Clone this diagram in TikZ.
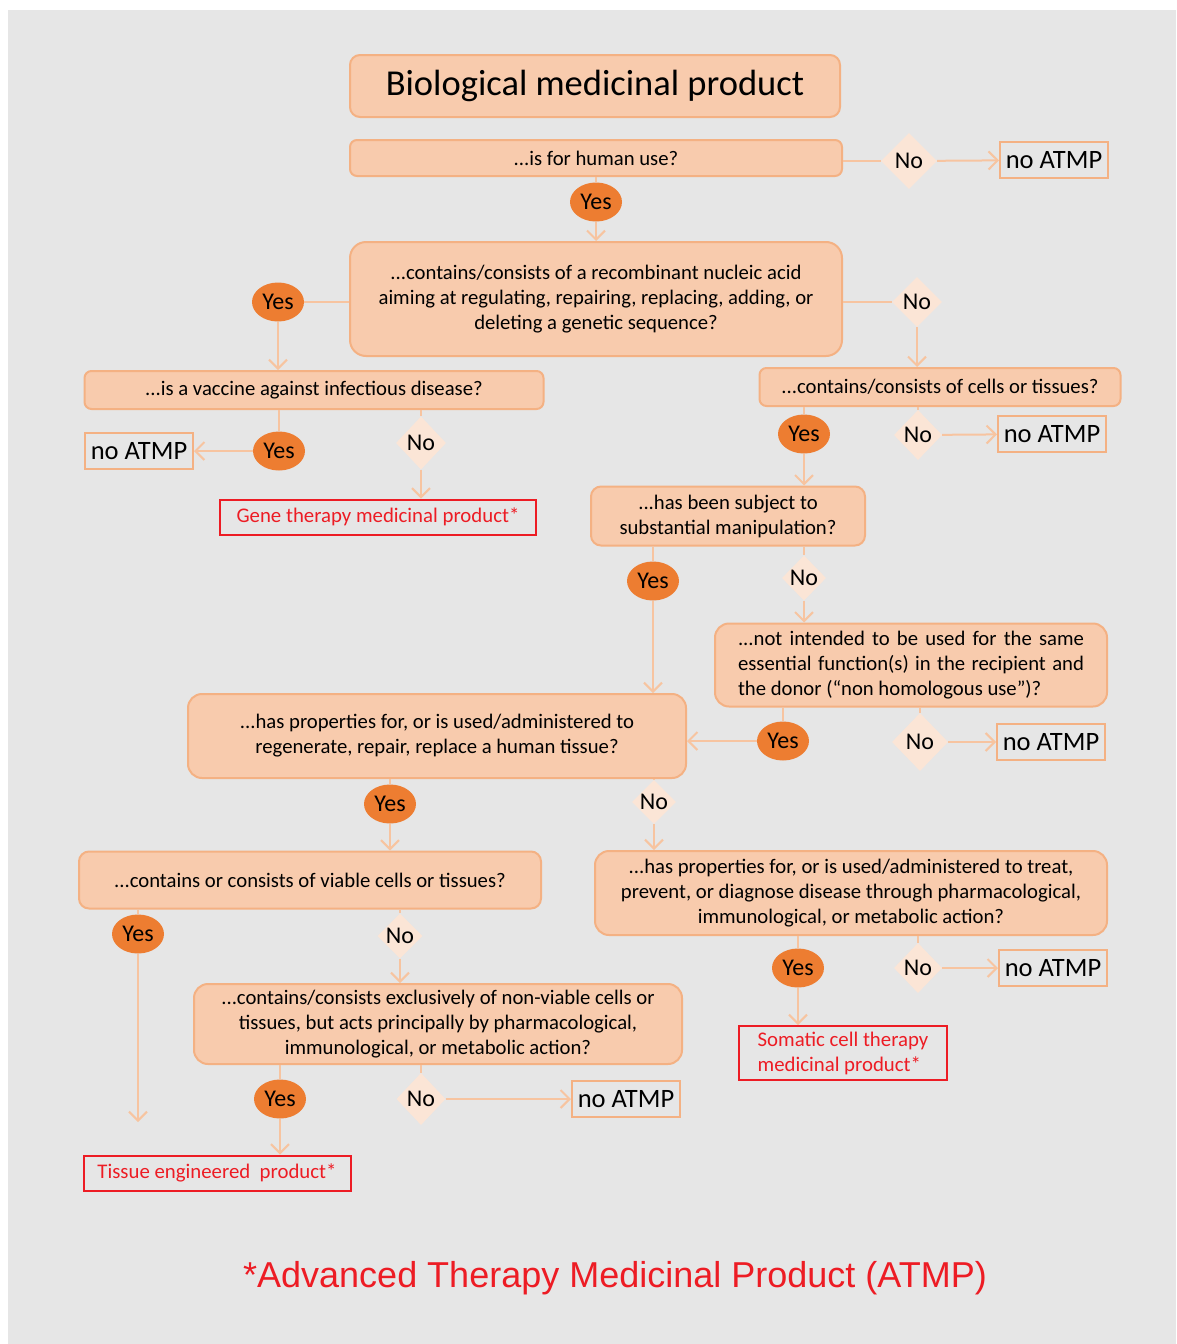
\documentclass[tikz,border=0pt]{standalone}
\usepackage{fontspec}
\setmainfont{Carlito}
\newfontfamily\footfont{Liberation Sans}
\usetikzlibrary{shapes.geometric,arrows.meta}
\definecolor{bggray}{HTML}{E6E6E6}
\definecolor{boxfill}{HTML}{F8CBAD}
\definecolor{boxline}{HTML}{F4B183}
\definecolor{connC}{HTML}{F7C4A0}
\definecolor{yesfill}{HTML}{ED7D31}
\definecolor{nofill}{HTML}{FBE5D6}
\definecolor{redC}{HTML}{ED1C24}
\tikzset{
  qbox/.style={draw=boxline, fill=boxfill, line width=2pt, rounded corners=10pt,
    align=center, inner sep=0pt, font=\fontsize{20.7}{25}\selectfont},
  yesnode/.style={ellipse, fill=yesfill, minimum width=52pt, minimum height=39pt,
    inner sep=0pt, font=\fontsize{24}{28}\selectfont},
  nonode/.style={diamond, fill=nofill, minimum width=50pt, minimum height=50pt,
    inner sep=0pt, font=\fontsize{24}{28}\selectfont},
  noatmp/.style={draw=boxline, line width=2pt, minimum width=108pt, minimum height=36pt,
    inner sep=0pt, font=\fontsize{26.5}{30}\selectfont},
  redbox/.style={draw=redC, line width=2pt, text=redC, inner sep=0pt,
    font=\fontsize{20.8}{25}\selectfont},
  conn/.style={draw=connC, line width=2pt},
  arr/.style={conn, -{Straight Barb[length=9pt,width=18pt,line width=2pt]}}
}
\begin{document}
\begin{tikzpicture}[x=1pt,y=-1pt]
\useasboundingbox (0,0) rectangle (1176,1344);
\fill[white] (0,0) rectangle (1176,1344);
\fill[bggray] (8,10) rectangle (1176,1344);

% nodes
\node[qbox, minimum width=490pt, minimum height=62pt, font=\fontsize{36.5}{40}\selectfont] (title) at (595,86) {Biological medicinal product};
\node[qbox, minimum width=492pt, minimum height=36pt, rounded corners=7pt] (human) at (596,158) {...is for human use?};
\node[yesnode] (yes1) at (596,202) {Yes};
\node[nonode, minimum width=56pt, minimum height=56pt] (no1) at (909,161) {No};
\node[noatmp] (na1) at (1054,160) {no ATMP};

\node[qbox, minimum width=492pt, minimum height=114pt, rounded corners=16pt] (recomb) at (596,299) {...contains/consists of a recombinant nucleic acid\\aiming at regulating, repairing, replacing, adding, or\\deleting a genetic sequence?};
\node[yesnode] (yes2) at (278,302) {Yes};
\node[nonode] (no2) at (917,302) {No};

\node[qbox, minimum width=459pt, minimum height=38pt, rounded corners=7pt] (vacc) at (314,390) {...is a vaccine against infectious disease?};
\node[yesnode] (yes3) at (279,451) {Yes};
\node[noatmp] (na2) at (139,451) {no ATMP};
\node[nonode, minimum height=53pt] (no3) at (421,443) {No};
\node[redbox, minimum width=316pt, minimum height=35pt] (gene) at (378,517) {Gene therapy medicinal product*};

\node[qbox, minimum width=361pt, minimum height=38pt, rounded corners=7pt] (cells) at (940,387) {...contains/consists of cells or tissues?};
\node[yesnode] (yes4) at (804,434) {Yes};
\node[nonode, minimum width=48pt] (no4) at (918,435) {No};
\node[noatmp] (na3) at (1052,434) {no ATMP};

\node[qbox, minimum width=274pt, minimum height=59pt] (manip) at (728,516) {...has been subject to\\substantial manipulation?};
\node[yesnode] (yes5) at (653,581) {Yes};
\node[nonode, minimum width=44pt, minimum height=45pt] (no5) at (804,578) {No};

\node[qbox, minimum width=392pt, minimum height=83pt, rounded corners=14pt, align=left] (notint) at (911,665) {\makebox[346pt][s]{...not intended to be used for the same}\\\makebox[346pt][s]{essential function(s) in the recipient and}\\\makebox[346pt][l]{the donor (“non homologous use”)?}};
\node[yesnode] (yes6) at (783,741) {Yes};
\node[nonode, minimum width=56pt, minimum height=58pt] (no6) at (920,742) {No};
\node[noatmp] (na4) at (1051,742) {no ATMP};

\node[qbox, minimum width=498pt, minimum height=84pt, rounded corners=14pt] (regen) at (437,736) {...has properties for, or is used/administered to\\regenerate, repair, replace a human tissue?};
\node[yesnode] (yes7) at (390,804) {Yes};
\node[nonode, minimum width=44pt, minimum height=44pt] (no7) at (654,802) {No};

\node[qbox, minimum width=462pt, minimum height=57pt] (viable) at (310,880) {...contains or consists of viable cells or tissues?};
\node[yesnode] (yes8) at (138,934) {Yes};
\node[nonode, minimum width=45pt, minimum height=45pt] (no8) at (400,936) {No};
\coordinate (end8) at (138,1122);

\node[qbox, minimum width=512pt, minimum height=84pt, rounded corners=14pt] (treat) at (851,893) {...has properties for, or is used/administered to treat,\\prevent, or diagnose disease through pharmacological,\\immunological, or metabolic action?};
\node[yesnode] (yes10) at (798,968) {Yes};
\node[nonode, minimum width=48pt] (no10) at (918,968) {No};
\node[noatmp] (na6) at (1053,968) {no ATMP};
\node[redbox, minimum width=208pt, minimum height=54pt, align=left] (somatic) at (843,1053) {Somatic cell therapy\\medicinal product*};

\node[qbox, minimum width=488pt, minimum height=80pt, rounded corners=14pt] (nonv) at (438,1024) {...contains/consists exclusively of non-viable cells or\\tissues, but acts principally by pharmacological,\\immunological, or metabolic action?};
\node[yesnode] (yes9) at (280,1099) {Yes};
\node[nonode, minimum width=49pt, minimum height=52pt] (no9) at (421,1099) {No};
\node[noatmp] (na5) at (626,1099) {no ATMP};
\node[redbox, minimum width=267pt, minimum height=35pt] (tissue) at (217,1173) {Tissue engineered\ \ product*};

\node[text=redC, font=\footfont\fontsize{36}{40}\selectfont] (foot) at (615,1278) {*Advanced Therapy Medicinal Product (ATMP)};

% connectors
\draw[conn] (yes1 |- human.south) -- (yes1);
\draw[arr] (yes1) -- (yes1 |- recomb.north);
\draw[conn] (human.east |- no1) -- (no1);
\draw[arr] (no1) -- (na1);

\draw[conn] (recomb.west |- yes2) -- (yes2);
\draw[arr] (yes2) -- (yes2 |- vacc.north);
\draw[conn] (recomb.east |- no2) -- (no2);
\draw[arr] (no2) -- (no2 |- cells.north);

\draw[conn] (yes3 |- vacc.south) -- (yes3);
\draw[arr] (yes3) -- (na2);
\draw[conn] (no3 |- vacc.south) -- (no3);
\draw[arr] (no3) -- (no3 |- gene.north);

\draw[conn] (yes4 |- cells.south) -- (yes4);
\draw[arr] (yes4) -- (yes4 |- manip.north);
\draw[conn] (no4 |- cells.south) -- (no4);
\draw[arr] (no4) -- (na3);

\draw[conn] (yes5 |- manip.south) -- (yes5);
\draw[arr] (yes5) -- (yes5 |- regen.north);
\draw[conn] (no5 |- manip.south) -- (no5);
\draw[arr] (no5) -- (no5 |- notint.north);

\draw[conn] (yes6 |- notint.south) -- (yes6);
\draw[arr] (yes6) -- (regen.east |- yes6);
\draw[conn] (no6 |- notint.south) -- (no6);
\draw[arr] (no6) -- (na4);

\draw[conn] (yes7 |- regen.south) -- (yes7);
\draw[arr] (yes7) -- (yes7 |- viable.north);
\draw[conn] (no7 |- regen.south) -- (no7);
\draw[arr] (no7) -- (no7 |- treat.north);

\draw[conn] (yes8 |- viable.south) -- (yes8);
\draw[arr] (yes8) -- (end8);
\draw[conn] (no8 |- viable.south) -- (no8);
\draw[arr] (no8) -- (no8 |- nonv.north);

\draw[conn] (yes9 |- nonv.south) -- (yes9);
\draw[arr] (yes9) -- (yes9 |- tissue.north);
\draw[conn] (no9 |- nonv.south) -- (no9);
\draw[arr] (no9) -- (na5);

\draw[conn] (yes10 |- treat.south) -- (yes10);
\draw[arr] (yes10) -- (yes10 |- somatic.north);
\draw[conn] (no10 |- treat.south) -- (no10);
\draw[arr] (no10) -- (na6);
\end{tikzpicture}
\end{document}
